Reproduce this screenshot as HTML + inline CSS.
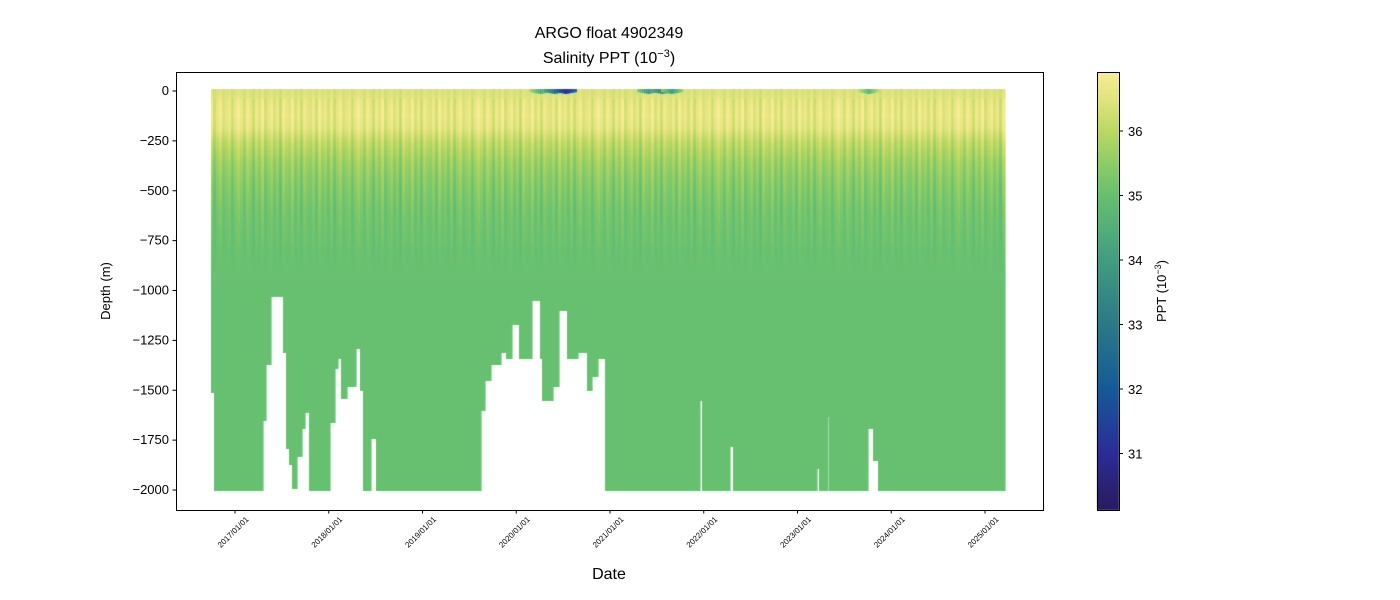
<!DOCTYPE html>
<html><head><meta charset="utf-8">
<style>
html,body{margin:0;padding:0;background:#fff;}
#wrap{position:relative;width:1400px;height:600px;font-family:"Liberation Sans","DejaVu Sans",sans-serif;}
canvas{position:absolute;left:0;top:0;}
svg{position:absolute;left:0;top:0;}
</style></head>
<body>
<div id="wrap">
<canvas id="cv" width="1400" height="600"></canvas>
<svg id="sv" width="1400" height="600"></svg>
</div>
<script>
// ---- data ----
const segDates = [2016.744,2016.776,2017.299,2017.331,2017.385,2017.513,2017.545,2017.577,2017.609,2017.662,2017.716,2017.748,2017.791,2018.015,2018.068,2018.100,2018.132,2018.197,2018.293,2018.335,2018.368,2018.453,2018.506,2019.628,2019.671,2019.735,2019.842,2019.895,2019.959,2020.034,2020.173,2020.248,2020.280,2020.387,2020.451,2020.536,2020.654,2020.750,2020.803,2020.868,2020.942,2021.957,2021.979,2022.278,2022.310,2023.207,2023.229,2023.271,2023.325,2023.336,2023.752,2023.805,2023.859,2025.216];
const segDepths = [-1513,-1995,-1650,-1373,-1032,-1308,-1790,-1865,-1985,-1833,-1690,-1614,-1995,-1660,-1390,-1340,-1540,-1480,-1290,-1500,-1995,-1735,-1995,-1600,-1450,-1373,-1310,-1340,-1163,-1340,-1048,-1340,-1550,-1480,-1098,-1340,-1310,-1500,-1433,-1340,-1995,-1545,-1995,-1780,-1995,-1885,-1995,-1995,-1634,-1995,-1690,-1845,-1995];
const meanDepths = [0,60,120,180,250,350,450,600,800,1200,2000];
const meanSal = [36.4,36.55,36.6,36.5,36.05,35.65,35.4,35.15,35.03,35.0,35.0];
const streaks = [0.1,-0.2,0.25,0.05,-0.3,0.15,-0.1,0.3,-0.25,0.0,0.2,-0.15,0.1,-0.35,0.25,0.05,-0.05,0.3,-0.2,0.1,-0.3,0.2,0.0,-0.1,0.15,-0.25,0.3,-0.05,0.1,-0.2,0.2,-0.3,0.05,0.25,-0.15,0.0,0.15,-0.25,0.1,0.3];
const freshDates = [2020.25,2020.40,2020.52,2021.40,2021.55,2021.65,2023.75];
const freshSal = [34.2,32.5,31.0,33.5,32.8,34.0,34.6];
const yTicks = [0,-250,-500,-750,-1000,-1250,-1500,-1750,-2000];
const xTickYears = [2017,2018,2019,2020,2021,2022,2023,2024,2025];
const cbTicks = [31,32,33,34,35,36];
const cmapVals = [30.1,31,32,33,34,35,35.5,36,36.5,36.9];
const cmapCols = ["#2a1a5e","#2b2c98","#155a98","#2a7a86","#3f9e80","#66c070","#8ecc66","#bcd862","#e2e47e","#f8ec94"];

// ---- scales ----
const PX0=176,PX1=1043,PY0=72,PY1=510;
const xS = d => 235 + (d-2017)*93.75;
const yS = v => 91 + (-v)*0.1995;
const cbY = s => 131 + (36-s)*64.5;
function hex(c){return [parseInt(c.slice(1,3),16),parseInt(c.slice(3,5),16),parseInt(c.slice(5,7),16)];}
function cmap(s){
  if(s<=cmapVals[0]) return hex(cmapCols[0]);
  for(let i=1;i<cmapVals.length;i++){ if(s<=cmapVals[i]){const t=(s-cmapVals[i-1])/(cmapVals[i]-cmapVals[i-1]);const a=hex(cmapCols[i-1]),b=hex(cmapCols[i]);return a.map((v,k)=>Math.round(v+(b[k]-v)*t));}}
  return hex(cmapCols[cmapCols.length-1]);
}
function meanAt(d){for(let i=1;i<meanDepths.length;i++){if(d<=meanDepths[i]){const t=(d-meanDepths[i-1])/(meanDepths[i]-meanDepths[i-1]);return meanSal[i-1]+(meanSal[i]-meanSal[i-1])*t;}}return meanSal[meanSal.length-1];}

// ---- draw data ----
const ctx=document.getElementById('cv').getContext('2d');
for(let i=0;i<segDepths.length;i++){
  const xa=xS(segDates[i]), xb=xS(segDates[i+1]);
  for(let x=Math.round(xa); x<Math.round(xb); x++){
    const an=streaks[Math.floor(x/3) % streaks.length];
    const yb=yS(segDepths[i]);
    for(let y=89;y<yb;y+=2){
      const dep=Math.max(0,(y-91)/0.1995);
      const w = dep<40?0.4:(dep<500?1:Math.max(0,1-(dep-500)/400));
      let s=meanAt(dep)+an*w;
      const c=cmap(s);
      ctx.fillStyle=`rgb(${c[0]},${c[1]},${c[2]})`;
      ctx.fillRect(x,y,1.6,2);
    }
  }
}
// fresh surface patches
for(let i=0;i<freshDates.length;i++){
  const x=xS(freshDates[i]);
  for(let k=-5;k<=5;k++){
    const c=cmap(freshSal[i]+Math.abs(k)*0.3);
    ctx.fillStyle=`rgb(${c[0]},${c[1]},${c[2]})`;
    ctx.fillRect(x+k*2,89,2,5-Math.abs(k)*0.35);
  }
}
// colorbar
for(let y=PY0;y<PY1;y++){
  const c=cmap(36+(131-y-0.5)/64.5);
  ctx.fillStyle=`rgb(${c[0]},${c[1]},${c[2]})`;
  ctx.fillRect(1097,y,22,1);
}

// ---- axes (svg) ----
const sv=document.getElementById('sv');
const NS='http://www.w3.org/2000/svg';
function mk(tag,attrs,text){const e=document.createElementNS(NS,tag);for(const k in attrs)e.setAttribute(k,attrs[k]);if(text!==undefined)e.textContent=text;sv.appendChild(e);return e;}
let e;
e=mk('rect',{x:PX0+0.5,y:PY0+0.5,width:PX1-PX0,height:PY1-PY0,fill:'none',stroke:'#000','stroke-width':1});


yTicks.forEach(v=>{
  const y=yS(v);
  e=mk('line',{x1:PX0-3.5,x2:PX0,y1:y,y2:y,stroke:'#000'});
  
  
  e=mk('text',{x:PX0-7,y:y+4,'text-anchor':'end','font-size':'13px',fill:'#000'},v===0?'0':'\u2212'+Math.abs(v));
  
  
});
xTickYears.forEach(yr=>{
  const x=xS(yr);
  e=mk('line',{x1:x,x2:x,y1:PY1,y2:PY1+3.5,stroke:'#000'});
  
  
  e=mk('text',{x:x,y:PY1+24,'text-anchor':'middle','font-size':'8px',fill:'#000',transform:`rotate(-45 ${x} ${PY1+24})`},yr+'/01/01');
  
  
});
e=mk('text',{x:609,y:38,'text-anchor':'middle','font-size':'16px'},'ARGO float 4902349');


e=mk('text',{x:609,y:63,'text-anchor':'middle','font-size':'16px'});
e.innerHTML='Salinity PPT (10<tspan dy="-6" font-size="11px">\u22123</tspan><tspan dy="6">)</tspan>';


e=mk('text',{x:609,y:579,'text-anchor':'middle','font-size':'16px'},'Date');


e=mk('text',{x:110,y:291,'text-anchor':'middle','font-size':'13px',transform:'rotate(-90 110 291)'},'Depth (m)');


// colorbar frame + ticks
e=mk('rect',{x:1097.5,y:PY0+0.5,width:22,height:PY1-PY0,fill:'none',stroke:'#000'});


cbTicks.forEach(s=>{
  const y=cbY(s);
  e=mk('line',{x1:1119.5,x2:1123,y1:y,y2:y,stroke:'#000'});
  
  
  e=mk('text',{x:1128,y:y+5,'font-size':'13px'},String(s));
  
  
});
e=mk('text',{x:1166,y:291,'text-anchor':'middle','font-size':'13px',transform:'rotate(-90 1166 291)'});
e.innerHTML='PPT (10<tspan dy="-5" font-size="9px">\u22123</tspan><tspan dy="5">)</tspan>';


</script>
</body></html>
